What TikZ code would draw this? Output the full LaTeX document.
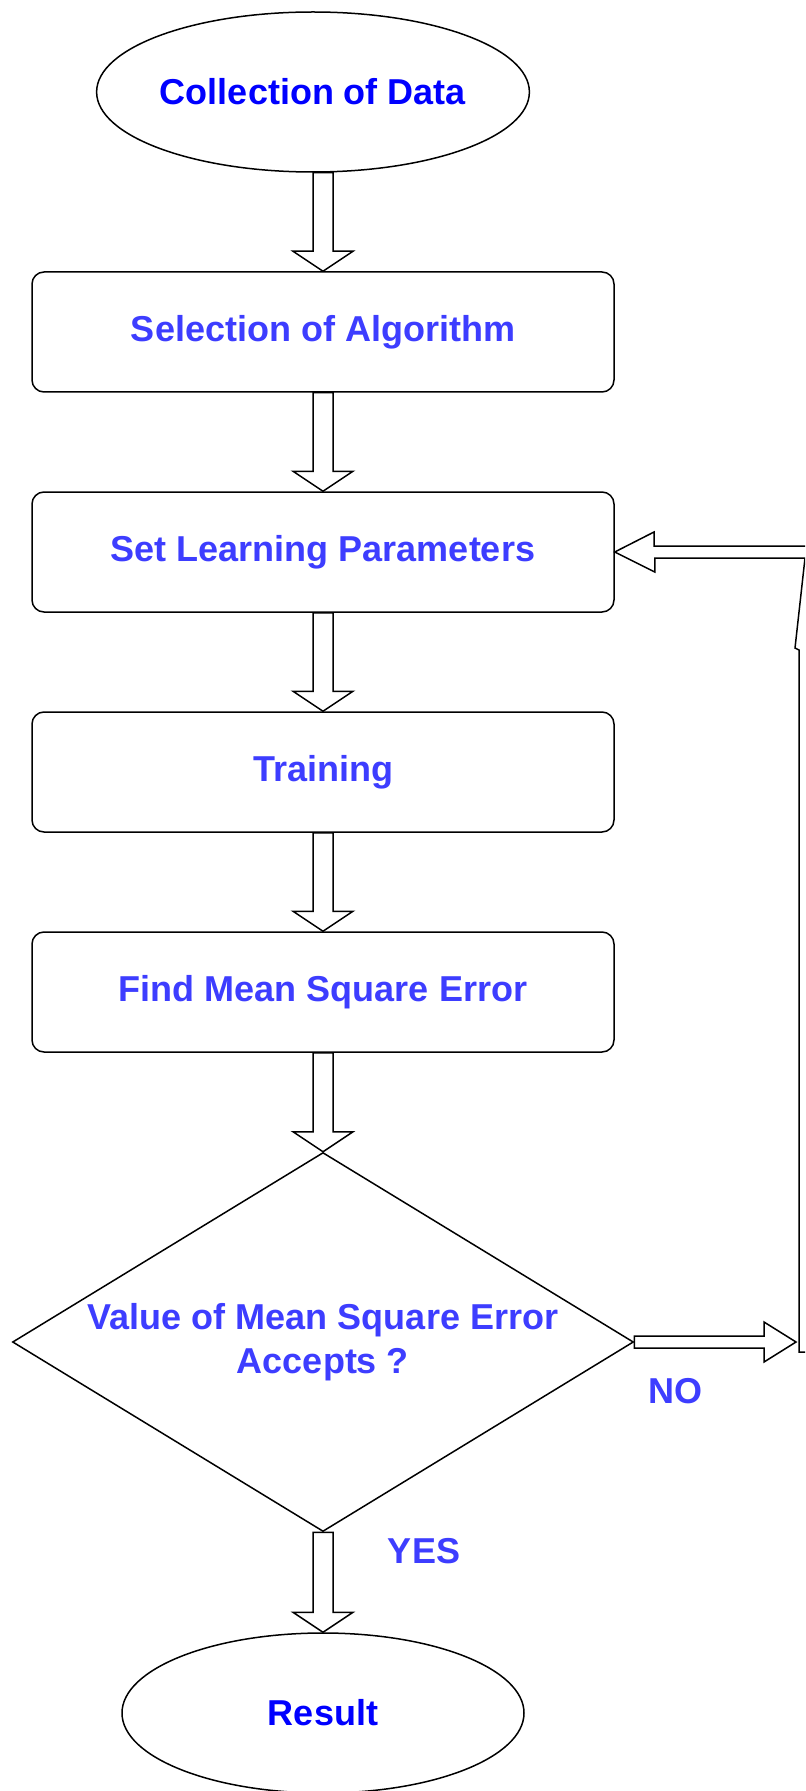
\documentclass[tikz,border=0pt]{standalone}
\usepackage{fontspec}
\setmainfont{Liberation Sans}
\usetikzlibrary{shapes.geometric,calc}
\definecolor{termblue}{RGB}{0,0,255}
\definecolor{stepblue}{RGB}{61,61,255}
\tikzset{
  flowline/.style={draw=black,line width=0.75pt,line join=miter},
  labeltext/.style={font=\fontsize{18}{22}\selectfont\bfseries},
  term/.style={ellipse,draw=black,line width=0.75pt,minimum width=201pt,minimum height=80pt,
    inner sep=0pt,labeltext,text=termblue},
  stepbox/.style={rectangle,rounded corners=6pt,draw=black,line width=0.75pt,
    minimum width=291pt,minimum height=60pt,labeltext,text=stepblue},
  decision/.style={diamond,draw=black,line width=0.75pt,minimum width=310.5pt,minimum height=189.5pt,
    aspect=1.64,inner sep=0pt,align=center,labeltext,text=stepblue},
  answer/.style={labeltext,text=stepblue}
}
% hollow block arrow going down, from #1 to the tip #2
\newcommand{\downflow}[2]{%
  \draw [flowline] ($(#1)+(-10,0)$)--($(#2)+(-10,-20)$)--($(#2)+(-30,-20)$)--(#2)
    --($(#2)+(30,-20)$)--($(#2)+(10,-20)$)--($(#1)+(10,0)$)--cycle;}
% hollow block arrow going right, from #1 to the tip #2
\newcommand{\sideflow}[2]{%
  \draw [flowline] ($(#1)+(0,-6)$)--($(#2)+(-32,-6)$)--($(#2)+(-32,-20)$)--(#2)
    --($(#2)+(-32,20)$)--($(#2)+(-32,6)$)--($(#1)+(0,6)$)--cycle;}
\begin{document}
\begin{tikzpicture}[x=0.5pt,y=-0.5pt]
    \clip (0,0) rectangle (805,1791);
    \fill [white] (0,0) rectangle (805,1791);
    \node [term] (collect) at (313,92) {Collection of Data};
    \node [stepbox] (select) at (323,332) {Selection of Algorithm};
    \node [stepbox] (setpar) at (323,552) {Set Learning Parameters};
    \node [stepbox] (train) at (323,772) {Training};
    \node [stepbox] (mse) at (323,992) {Find Mean Square Error};
    \node [decision] (accept) at (323,1342) {Value of Mean Square Error\\Accepts ?};
    \node [term] (result) at (323,1713) {Result};
    \node [answer] (no) at (675,1391) {NO};
    \node [answer] (yes) at (424,1551) {YES};
    \coordinate (loop) at (796,1342);
    \downflow{collect.south -| select.north}{select.north}
    \downflow{select.south}{setpar.north}
    \downflow{setpar.south}{train.north}
    \downflow{train.south}{mse.north}
    \downflow{mse.south}{accept.north}
    \downflow{accept.south}{result.north}
    \sideflow{accept.east}{loop}
    % way back to the parameters
    \draw [flowline] (setpar.east)--++(40,20)--++(0,-14)--(805,558)--(795,648)--(799,650)
      --(799,1352)--(811,1352)--(811,652)--(821,560)--(821,546)--(654,546)--(654,532)--cycle;
\end{tikzpicture}
\end{document}
